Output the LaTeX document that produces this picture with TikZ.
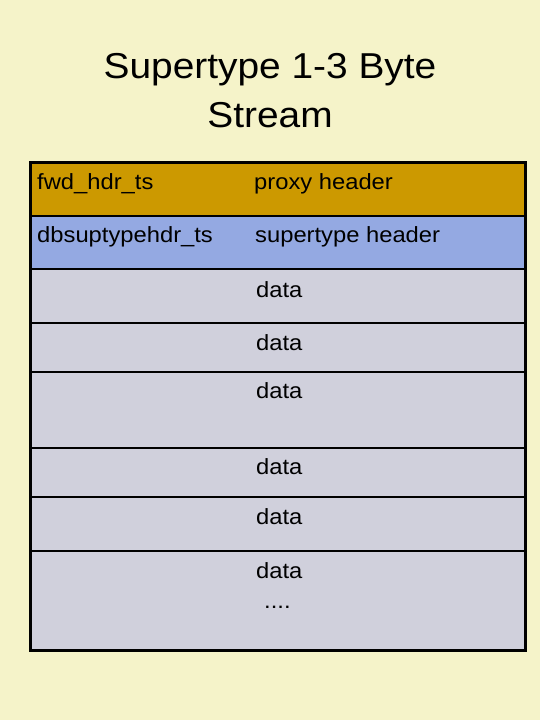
\documentclass[tikz,border=0pt]{standalone}
\usepackage{fontspec}
\setmainfont{Liberation Sans}[FakeStretch=1.08]
\definecolor{slidebg}{HTML}{F5F3C9}
\definecolor{proxygold}{HTML}{CC9900}
\definecolor{suptblue}{HTML}{94A9E2}
\definecolor{datagrey}{HTML}{D0D0DC}
\tikzset{
  row/.style={draw=black, line width=2pt, anchor=north west, minimum width=495pt, inner sep=0pt, outer sep=0pt},
  lbl/.style={anchor=base west, inner sep=0pt, font=\fontsize{22}{26}\selectfont},
}
\begin{document}
\begin{tikzpicture}[x=1pt,y=-1pt]
  \fill[slidebg] (0,0) rectangle (540,720);
  \useasboundingbox (0,0) rectangle (540,720);

  \node (title1) at (270,78) [anchor=base, inner sep=0pt, font=\fontsize{36}{48}\selectfont] {Supertype 1-3 Byte};
  \node (title2) at (270,127) [anchor=base, inner sep=0pt, font=\fontsize{36}{48}\selectfont] {Stream};

  \node (proxy) at (30,162) [row, fill=proxygold, minimum height=54pt] {};
  \node (supt)  at (30,216) [row, fill=suptblue, minimum height=53pt] {};
  \node (data1) at (30,269) [row, fill=datagrey, minimum height=54pt] {};
  \node (data2) at (30,323) [row, fill=datagrey, minimum height=49pt] {};
  \node (data3) at (30,372) [row, fill=datagrey, minimum height=76pt] {};
  \node (data4) at (30,448) [row, fill=datagrey, minimum height=49pt] {};
  \node (data5) at (30,497) [row, fill=datagrey, minimum height=54pt] {};
  \node (data6) at (30,551) [row, fill=datagrey, minimum height=99pt] {};
  \draw[line width=3pt] (proxy.north west) rectangle (data6.south east);

  \node (fwdname)  at (37,189)  [lbl] {fwd\_hdr\_ts};
  \node (fwdtext)  at (254,189) [lbl] {proxy header};
  \node (suptname) at (37,242)  [lbl] {dbsuptypehdr\_ts};
  \node (supttext) at (255,242) [lbl] {supertype header};
  \node (dtext1) at (256,297) [lbl] {data};
  \node (dtext2) at (256,350) [lbl] {data};
  \node (dtext3) at (256,398) [lbl] {data};
  \node (dtext4) at (256,474) [lbl] {data};
  \node (dtext5) at (256,524) [lbl] {data};
  \node (dtext6) at (256,578) [lbl] {data};
  \node (dots)   at (264,608) [lbl] {....};
\end{tikzpicture}
\end{document}
